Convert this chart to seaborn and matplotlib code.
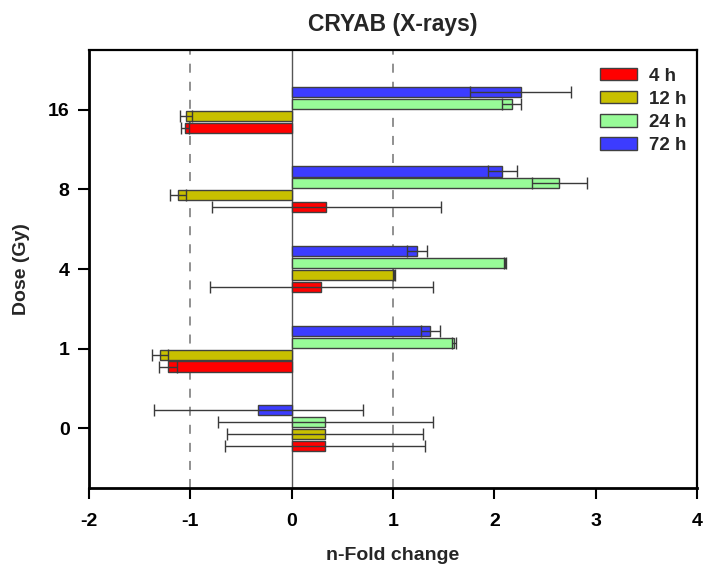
import matplotlib
matplotlib.use("Agg")
import matplotlib.pyplot as plt
import numpy as np
import pandas as pd
import seaborn as sns
from matplotlib.patches import Patch

# Dose groups (top to bottom) and exposure times
doses = ["16", "8", "4", "1", "0"]
times = ["4 h", "12 h", "24 h", "72 h"]

# Mean n-fold change per dose for each time point
fold_4h = [-1.05, 0.34, 0.29, -1.22, 0.33]
fold_12h = [-1.04, -1.12, 1.01, -1.30, 0.33]
fold_24h = [2.17, 2.64, 2.11, 1.60, 0.33]
fold_72h = [2.26, 2.08, 1.24, 1.37, -0.33]

# Error (half-width) per dose for each time point
err_4h = [0.04, 1.13, 1.10, 0.09, 0.99]
err_12h = [0.06, 0.08, 0.01, 0.08, 0.97]
err_24h = [0.09, 0.27, 0.01, 0.02, 1.06]
err_72h = [0.50, 0.14, 0.10, 0.09, 1.03]

colors = ["#FF0000", "#C8C000", "#98FB98", "#3C3CFF"]
x_ticks = [-2, -1, 0, 1, 2, 3, 4]

folds = {"4 h": fold_4h, "12 h": fold_12h, "24 h": fold_24h, "72 h": fold_72h}
errs = {"4 h": err_4h, "12 h": err_12h, "24 h": err_24h, "72 h": err_72h}

df = pd.DataFrame(
    [(d, t, folds[t][i]) for t in times for i, d in enumerate(doses)],
    columns=["dose", "time", "fold"],
)

sns.set_style("ticks")
plt.rcParams["font.family"] = ["Liberation Sans", "DejaVu Sans"]
plt.rcParams["font.weight"] = "bold"

fig = plt.figure(figsize=(7.04, 5.68), dpi=100)
ax = fig.add_axes([89 / 704, 1 - 488 / 568, (697 - 89) / 704, (488 - 50) / 568])

palette = dict(zip(times, colors))
stack_order = times[::-1]  # 72 h drawn on top of each group

sns.barplot(
    data=df, y="dose", x="fold", hue="time", order=doses, hue_order=stack_order,
    palette=palette, orient="h", width=0.6, gap=0.15, errorbar=None,
    edgecolor="#404040", linewidth=1.0, saturation=1, ax=ax, zorder=2,
)

# Error bars placed at each drawn bar
for container, t in zip(ax.containers, stack_order):
    for bar, e in zip(container, errs[t]):
        yc = bar.get_y() + bar.get_height() / 2
        xv = bar.get_x() + bar.get_width()
        ax.errorbar(xv, yc, xerr=e, fmt="none", ecolor="#3a3a3a",
                    elinewidth=1.0, capsize=4.5, capthick=1.0, zorder=3)

# Reference lines
ax.axvline(0, color="#555555", lw=1.0, zorder=1)
for xv in (-1, 1):
    ax.axvline(xv, color="#888888", lw=1.3, ls=(0, (5, 5)), zorder=1)

ax.set_xlim(-2, 4)
ax.set_ylim(4.75, -0.75)
ax.set_xticks(x_ticks)
ax.set_xticklabels([str(v) for v in x_ticks])

ax.tick_params(axis="both", direction="out", length=8, width=1.5,
               labelsize=14, colors="black")
ax.tick_params(axis="x", pad=10)
ax.tick_params(axis="y", pad=6)
for lbl in ax.get_xticklabels() + ax.get_yticklabels():
    lbl.set_fontweight("bold")

for side in ("left", "bottom"):
    ax.spines[side].set_linewidth(2.0)
for side in ("top", "right"):
    ax.spines[side].set_linewidth(1.6)
for s in ax.spines.values():
    s.set_color("black")

ax.set_title("CRYAB (X-rays)", fontsize=16.5, fontweight="bold", pad=14)
ax.set_xlabel("n-Fold change", fontsize=14, fontweight="bold", labelpad=12)
ax.set_ylabel("Dose (Gy)", fontsize=14, fontweight="bold", labelpad=13)

handles = [Patch(facecolor=c, edgecolor="#404040", linewidth=1.0) for c in colors]
ax.legend(handles, times, loc="upper left", bbox_to_anchor=(0.840, 0.960),
          frameon=False, prop={"weight": "bold", "size": 13.5},
          handlelength=2.0, handleheight=0.65, labelspacing=0.33,
          handletextpad=0.65, borderpad=0, borderaxespad=0)

fig.savefig("out.png", dpi=100)
